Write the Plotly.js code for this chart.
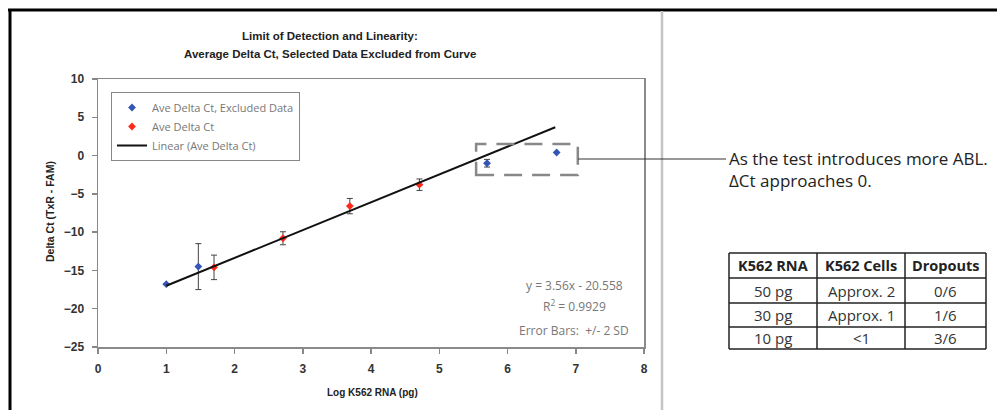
<!DOCTYPE html>
<html>
<head>
<meta charset="utf-8">
<script src="https://cdn.plot.ly/plotly-3.0.1.min.js"></script>
<style>html,body{margin:0;padding:0;background:#fff;}#chart{width:997px;height:410px;}</style>
</head>
<body>
<div id="chart"></div>
<script>
// ---- data ----
const excludedX = [1.0, 1.47, 5.70, 6.72];
const excludedY = [-16.8, -14.5, -1.0, 0.4];
const excludedErr = [0, 3.0, 0.5, 0];

const includedX = [1.70, 2.71, 3.69, 4.71];
const includedY = [-14.6, -10.8, -6.6, -3.8];
const includedErr = [1.6, 0.85, 1.0, 0.75];

// trendline endpoints as drawn in the reference
const trendX = [1.0, 6.7];
const trendY = [-17.0, 3.7];

const tableHeader = ['K562 RNA', 'K562 Cells', 'Dropouts'];
const colRNA = ['50 pg', '30 pg', '10 pg'];
const colCells = ['Approx. 2', 'Approx. 1', '<1'];
const colDropouts = ['0/6', '1/6', '3/6'];

const yTicks = [-25, -20, -15, -10, -5, 0, 5, 10];
const xTicks = [0, 1, 2, 3, 4, 5, 6, 7, 8];

// ---- geometry helpers (pixels -> paper) ----
const W = 997, H = 410;
const px = v => v / W;
const py = v => 1 - v / H;

const errStyle = {type: 'data', visible: true, color: '#444', thickness: 1, width: 3};

const traces = [
  {
    type: 'scatter', mode: 'markers', name: 'Ave Delta Ct, Excluded Data',
    x: excludedX, y: excludedY,
    error_y: Object.assign({array: excludedErr}, errStyle),
    marker: {symbol: 'diamond', size: 6, color: '#3355b5'}
  },
  {
    type: 'scatter', mode: 'markers', name: 'Ave Delta Ct',
    x: includedX, y: includedY,
    error_y: Object.assign({array: includedErr}, errStyle),
    marker: {symbol: 'diamond', size: 6, color: '#ff2a1a'}
  },
  {
    type: 'scatter', mode: 'lines', name: 'Linear (Ave Delta Ct)',
    x: trendX, y: trendY,
    line: {color: '#111', width: 2}
  }
];

// ---- table (drawn with shapes + annotations) ----
const colEdges = [729, 817, 905, 986];
const rowEdges = [253, 278, 303, 327, 349];
const tableShapes = [];
colEdges.forEach(cx => tableShapes.push({type: 'line', xref: 'paper', yref: 'paper',
  x0: px(cx), x1: px(cx), y0: py(rowEdges[0]), y1: py(rowEdges[rowEdges.length - 1]), line: {color: '#222', width: 1.5}}));
rowEdges.forEach(ry => tableShapes.push({type: 'line', xref: 'paper', yref: 'paper',
  x0: px(colEdges[0]), x1: px(colEdges[colEdges.length - 1]), y0: py(ry), y1: py(ry), line: {color: '#222', width: 1.5}}));

const tableAnn = [];
const tableCols = [colRNA, colCells, colDropouts];
tableHeader.forEach((h, c) => {
  tableAnn.push({xref: 'paper', yref: 'paper', xanchor: 'center', yanchor: 'middle',
    x: px((colEdges[c] + colEdges[c + 1]) / 2), y: py((rowEdges[0] + rowEdges[1]) / 2),
    text: '<b>' + h + '</b>', showarrow: false, font: {family: 'Open Sans', size: 14.5, color: '#222'}});
  tableCols[c].forEach((v, r) => {
    tableAnn.push({xref: 'paper', yref: 'paper', xanchor: 'center', yanchor: 'middle',
      x: px((colEdges[c] + colEdges[c + 1]) / 2), y: py((rowEdges[r + 1] + rowEdges[r + 2]) / 2),
      text: v.replace('<', '&lt;'), showarrow: false, font: {family: 'Open Sans', size: 15, color: '#333'}});
  });
});

const tickFont = {family: 'Liberation Sans, Arial', size: 12, color: '#333', weight: 'bold'};
const titleFont = {family: 'Liberation Sans, Arial', size: 11.5, color: '#222'};

function ann(x, y, text, font, extra) {
  return Object.assign({xref: 'paper', yref: 'paper', x: px(x), y: py(y), xanchor: 'center', yanchor: 'middle',
    text: text, showarrow: false, font: font}, extra || {});
}

const layout = {
  width: W, height: H,
  margin: {l: 0, r: 0, t: 0, b: 0},
  paper_bgcolor: '#fff', plot_bgcolor: '#fff',
  showlegend: true,
  xaxis: {
    domain: [px(98), px(644)], range: [0, 8],
    tickvals: xTicks, ticks: 'outside', ticklen: 5, tickcolor: '#888', tickwidth: 1.5,
    showline: true, linecolor: '#8a8a8a', linewidth: 1.5, mirror: true,
    showgrid: false, zeroline: false, tickfont: tickFont, ticklabelstandoff: 5,
    fixedrange: true
  },
  yaxis: {
    domain: [py(347), py(79)], range: [-25, 10],
    tickvals: yTicks, ticks: 'outside', ticklen: 5, tickcolor: '#888', tickwidth: 1.5,
    showline: true, linecolor: '#8a8a8a', linewidth: 1.5, mirror: true,
    showgrid: false, zeroline: false, tickfont: tickFont, ticklabelstandoff: 5,
    fixedrange: true
  },
  legend: {
    x: px(111), y: py(92), xanchor: 'left', yanchor: 'top',
    bgcolor: '#fff', bordercolor: '#888', borderwidth: 1,
    font: {family: 'Open Sans', size: 11, color: '#777'},
    itemwidth: 30, tracegroupgap: 0
  },
  shapes: [
    // outer frame
    {type: 'line', xref: 'paper', yref: 'paper', x0: px(8), x1: 1, y0: py(10), y1: py(10), line: {color: '#000', width: 3}},
    {type: 'line', xref: 'paper', yref: 'paper', x0: px(10), x1: px(10), y0: py(9), y1: 0, line: {color: '#000', width: 3}},
    {type: 'line', xref: 'paper', yref: 'paper', x0: px(662), x1: px(662), y0: py(11), y1: 0, line: {color: '#c4c4c4', width: 2.5}},
    // dashed highlight box
    {type: 'rect', xref: 'x', yref: 'y', x0: 5.54, x1: 7.03, y0: -2.54, y1: 1.5, line: {color: '#888', width: 2.5, dash: '18px,10px'}},
    // connector
    {type: 'line', xref: 'paper', yref: 'paper', x0: px(578), x1: px(726), y0: py(159), y1: py(159), line: {color: '#333', width: 1}}
  ].concat(tableShapes),
  annotations: [
    ann(330, 36, '<b>Limit of Detection and Linearity:</b>', titleFont),
    ann(330, 54, '<b>Average Delta Ct, Selected Data Excluded from Curve</b>', titleFont),
    ann(50, 212, '<b>Delta Ct (TxR - FAM)</b>', {family: 'Liberation Sans, Arial', size: 10.5, color: '#222'}, {textangle: -90}),
    ann(372, 392, '<b>Log K562 RNA (pg)</b>', {family: 'Liberation Sans, Arial', size: 10, color: '#222'}),
    ann(574, 285, 'y = 3.56x - 20.558', {family: 'Open Sans', size: 12, color: '#777'}),
    ann(574, 306, 'R<sup>2</sup> = 0.9929', {family: 'Open Sans', size: 12, color: '#777'}),
    ann(574, 330, 'Error Bars:  +/- 2 SD', {family: 'Open Sans', size: 12, color: '#777'}),
    ann(727, 158, 'As the test introduces more ABL.', {family: 'Open Sans', size: 17, color: '#222'}, {xanchor: 'left'}),
    ann(727, 181, 'ΔCt approaches 0.', {family: 'Open Sans', size: 17, color: '#222'}, {xanchor: 'left'})
  ].concat(tableAnn)
};

Plotly.newPlot('chart', traces, layout, {displayModeBar: false, staticPlot: true});
</script>
</body>
</html>
